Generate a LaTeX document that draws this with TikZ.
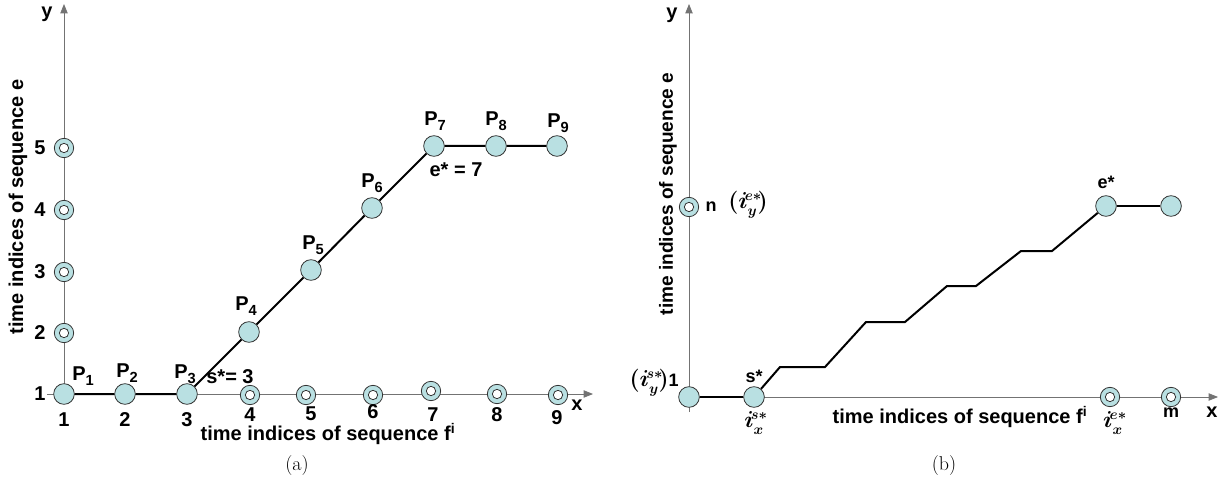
\documentclass[tikz,border=0pt]{standalone}
\usepackage{fontspec}
\newfontfamily\arialb{Liberation Sans}
\usetikzlibrary{arrows.meta}
\definecolor{ccol}{RGB}{185,224,226}
\definecolor{axc}{RGB}{115,115,115}
\definecolor{rimc}{RGB}{50,50,50}
\newcommand{\Pl}[1]{P\raisebox{-0.45ex}{\fontsize{11}{11}\selectfont #1}}
\begin{document}
\begin{tikzpicture}[x=0.75pt,y=-0.75pt,
 lab/.style={font=\arialb\fontsize{15}{15}\selectfont\bfseries, inner sep=0pt},
 labs/.style={font=\arialb\fontsize{13.5}{13.5}\selectfont\bfseries, inner sep=0pt},
 mlab/.style={font=\fontsize{16}{16}\selectfont\boldmath, inner sep=0pt},
 caplab/.style={font=\fontsize{15}{15}\selectfont, inner sep=0pt},
 dot/.style={circle,draw=rimc,line width=0.6pt,fill=ccol,minimum size=15.5pt,inner sep=0pt},
 ring/.style={circle,draw=rimc,line width=0.6pt,fill=ccol,minimum size=14.5pt,inner sep=0pt,
   path picture={\draw[rimc,fill=white,line width=0.6pt] (path picture bounding box.center) circle (3.5pt);}},
 axis/.style={draw=axc,line width=0.6pt},
 axarr/.style={axis,-{Triangle[length=7pt,width=5.5pt]}},
 wpath/.style={draw=black,line width=1.5pt}
]
\useasboundingbox (0,0) rectangle (1223,488);

% ---------------- panel (a) ----------------
\coordinate (ay0) at (64,394);
\coordinate (ayt) at (64,4);
\coordinate (ax0) at (47,394);
\coordinate (axt) at (593,394);
\draw[axarr] (ay0) -- (ayt);
\draw[axarr] (ax0) -- (axt);

\node[lab] (ay) at (47,14) {y};
\node[lab] (ax) at (577,405) {x};

% y rings
\node[ring] (y2) at (64,333) {};
\node[ring] (y3) at (64,272) {};
\node[ring] (y4) at (64,210) {};
\node[ring] (y5) at (64,148) {};
% x rings
\node[ring] (x4) at (250,395) {};
\node[ring] (x5) at (306,395) {};
\node[ring] (x6) at (373,395) {};
\node[ring] (x7) at (431,391) {};
\node[ring] (x8) at (497,394) {};
\node[ring] (x9) at (558,395) {};

% path points
\node[dot] (P1) at (64,394) {};
\node[dot] (P2) at (125,394) {};
\node[dot] (P3) at (187,394) {};
\node[dot] (P4) at (249,332) {};
\node[dot] (P5) at (311,270) {};
\node[dot] (P6) at (372,208) {};
\node[dot] (P7) at (434,146) {};
\node[dot] (P8) at (496,146) {};
\node[dot] (P9) at (557,146) {};
\draw[wpath] (P1) -- (P2) -- (P3) -- (P4) -- (P5) -- (P6) -- (P7) -- (P8) -- (P9);

% point labels
\node[lab] (lP1) at (83,376) {\Pl{1}};
\node[lab] (lP2) at (127,373) {\Pl{2}};
\node[lab] (lP3) at (185,374) {\Pl{3}};
\node[lab] (lP4) at (246,306) {\Pl{4}};
\node[lab] (lP5) at (313,245) {\Pl{5}};
\node[lab] (lP6) at (372,183) {\Pl{6}};
\node[lab] (lP7) at (435,121) {\Pl{7}};
\node[lab] (lP8) at (496,121) {\Pl{8}};
\node[lab] (lP9) at (558,123) {\Pl{9}};
\node[lab] (ls) at (230,377) {s*= 3};
\node[lab] (le) at (456,170) {e* = 7};

% tick labels
\node[lab] (ty1) at (40,394) {1};
\node[lab] (ty2) at (40,333) {2};
\node[lab] (ty3) at (40,272) {3};
\node[lab] (ty4) at (40,210) {4};
\node[lab] (ty5) at (40,148) {5};
\node[lab] (tx1) at (64,420) {1};
\node[lab] (tx2) at (125,420) {2};
\node[lab] (tx3) at (187,420) {3};
\node[lab] (tx4) at (250,415) {4};
\node[lab] (tx5) at (311,414) {5};
\node[lab] (tx6) at (373,412) {6};
\node[lab] (tx7) at (433,415) {7};
\node[lab] (tx8) at (497,415) {8};
\node[lab] (tx9) at (557,418) {9};

\node[lab] (xlabA) at (328,434) {time indices of sequence f\textsuperscript{i}};
\node[lab,rotate=90] (ylabA) at (18,207) {time indices of sequence e};
\node[caplab] (capA) at (297,466) {(a)};

% ---------------- panel (b) ----------------
\coordinate (by0) at (689,412);
\coordinate (byt) at (689,4);
\coordinate (bx0) at (689,397);
\coordinate (bxt) at (1218,397);
\draw[axarr] (by0) -- (byt);
\draw[axarr] (bx0) -- (bxt);

\node[lab] (by) at (672,15) {y};
\node[lab] (bx) at (1212,412) {x};

\node[ring] (bn) at (689,207) {};
\node[ring] (bxe) at (1110,397) {};
\node[ring] (bm) at (1171,397) {};

\node[dot] (O) at (689,397) {};
\node[dot] (S) at (754,397) {};
\node[dot] (E) at (1106,206) {};
\node[dot] (F) at (1171,206) {};

\coordinate (c1) at (780,367);
\coordinate (c2) at (825,367);
\coordinate (c3) at (866,322);
\coordinate (c4) at (905,322);
\coordinate (c5) at (947,286);
\coordinate (c6) at (976,286);
\coordinate (c7) at (1021,251);
\coordinate (c8) at (1052,251);
\draw[wpath] (O) -- (S);
\draw[wpath,line join=miter] (S) -- (c1) -- (c2) -- (c3) -- (c4) -- (c5) -- (c6) -- (c7) -- (c8) -- (E);
\draw[wpath] (E) -- (F);

\node[labs] (lS) at (754,376) {s*};
\node[labs] (lE) at (1106,182) {e*};
\node[mlab] (lisx) at (756,423) {$i_x^{\!s*}$};
\node[mlab] (liex) at (1115,423) {$i_x^{\!e*}$};
\node[labs] (lm) at (1171,413) {m};
\node[labs] (ln) at (711,207) {n};
\node[mlab] (liey) at (748,205) {$(i_y^{\!e*}\!)$};
\node[mlab,anchor=east] (lisy) at (679,383) {$(i_y^{\!s*}\!)$\arialb\bfseries\fontsize{13.5}{13.5}\selectfont 1};

\node[lab] (xlabB) at (960,417) {time indices of sequence f\textsuperscript{i}};
\node[lab,font=\arialb\fontsize{14.3}{14.3}\selectfont\bfseries,rotate=90] (ylabB) at (668,194) {time indices of sequence e};
\node[caplab] (capB) at (944,466) {(b)};
\end{tikzpicture}
\end{document}
